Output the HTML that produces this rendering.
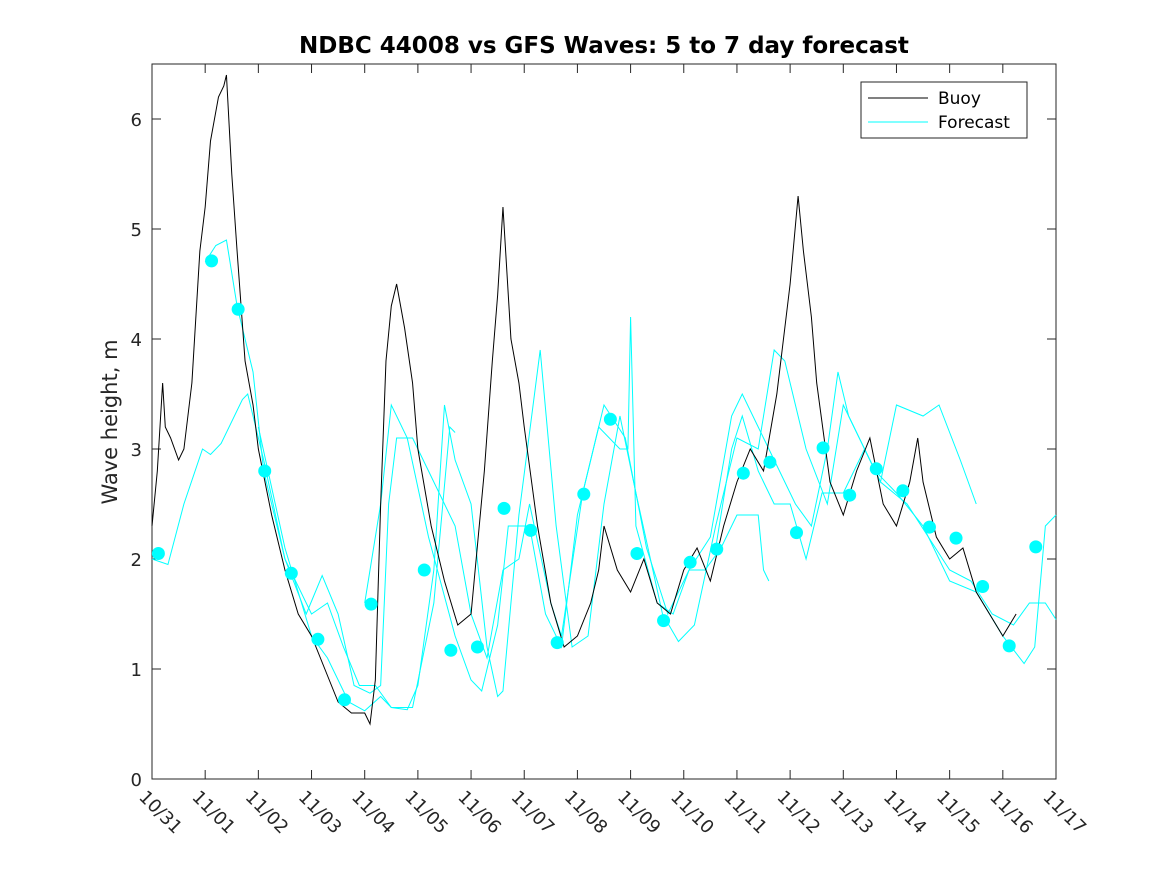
<!DOCTYPE html>
<html><head><meta charset="utf-8"><style>
body{margin:0;background:#fff}
svg{display:block;font-family:"DejaVu Sans","Liberation Sans",sans-serif}
</style></head><body>
<svg id="c" width="1167" height="875"></svg>
<script>
const xTicks=["10/31","11/01","11/02","11/03","11/04","11/05","11/06","11/07","11/08","11/09","11/10","11/11","11/12","11/13","11/14","11/15","11/16","11/17"];
const yTicks=[0,1,2,3,4,5,6];
const buoyDays=[0,0.1,0.2,0.25,0.35,0.5,0.6,0.75,0.9,1.0,1.1,1.25,1.35,1.4,1.5,1.6,1.75,1.9,2.0,2.25,2.5,2.75,3.0,3.25,3.5,3.75,4.0,4.1,4.2,4.3,4.4,4.5,4.6,4.75,4.9,5.0,5.25,5.5,5.75,6.0,6.25,6.4,6.5,6.6,6.75,6.9,7.0,7.25,7.5,7.75,8.0,8.25,8.4,8.5,8.75,9.0,9.25,9.5,9.75,10.0,10.25,10.5,10.75,11.0,11.25,11.5,11.75,12.0,12.15,12.25,12.4,12.5,12.75,13.0,13.25,13.5,13.75,14.0,14.25,14.4,14.5,14.75,15.0,15.25,15.5,15.75,16.0,16.25];
const buoyVals=[2.3,2.8,3.6,3.2,3.1,2.9,3.0,3.6,4.8,5.2,5.8,6.2,6.3,6.4,5.5,4.8,3.8,3.4,3.0,2.4,1.9,1.5,1.3,1.0,0.7,0.6,0.6,0.5,0.9,2.5,3.8,4.3,4.5,4.1,3.6,3.0,2.3,1.8,1.4,1.5,2.8,3.8,4.4,5.2,4.0,3.6,3.2,2.3,1.6,1.2,1.3,1.6,1.9,2.3,1.9,1.7,2.0,1.6,1.5,1.9,2.1,1.8,2.3,2.7,3.0,2.8,3.5,4.5,5.3,4.8,4.2,3.6,2.7,2.4,2.8,3.1,2.5,2.3,2.7,3.1,2.7,2.2,2.0,2.1,1.7,1.5,1.3,1.5];
const dotDays=[0.12,1.12,1.62,2.12,2.62,3.12,3.62,4.12,5.12,5.62,6.12,6.62,7.12,7.62,8.12,8.62,9.12,9.62,10.12,10.62,11.12,11.62,12.12,12.62,13.12,13.62,14.12,14.62,15.12,15.62,16.12,16.62];
const dotVals=[2.05,4.71,4.27,2.8,1.87,1.27,0.72,1.59,1.9,1.17,1.2,2.46,2.26,1.24,2.59,3.27,2.05,1.44,1.97,2.09,2.78,2.88,2.24,3.01,2.58,2.82,2.62,2.29,2.19,1.75,1.21,2.11];
const fc1=[[0,2.0],[0.3,1.95],[0.6,2.5],[0.95,3.0],[1.1,2.95],[1.3,3.05],[1.7,3.45],[1.8,3.5],[2.1,2.9],[2.5,2.0],[3.0,1.5],[3.3,1.6],[3.6,1.2],[3.9,0.85],[4.2,0.85],[4.5,0.65],[4.9,0.65],[5.3,1.6],[5.6,3.2],[5.7,3.15]];
const fc2=[[1.0,4.7],[1.2,4.85],[1.4,4.9],[1.6,4.3],[1.9,3.7],[2.1,2.8],[2.5,2.0],[2.9,1.5],[3.2,1.85],[3.5,1.5],[3.8,0.85],[4.1,0.78],[4.3,0.85],[4.45,2.5],[4.6,3.1],[4.9,3.1],[5.3,2.7],[5.7,2.3],[6.0,1.5],[6.3,1.1],[6.6,1.9],[6.9,2.0],[7.1,2.5],[7.5,1.6],[7.7,1.3],[8.1,2.6],[8.5,3.4],[8.9,3.1],[9.3,2.1],[9.7,1.5],[10.1,1.9],[10.5,2.2],[10.9,3.3],[11.1,3.5],[11.4,3.2],[11.7,2.9],[12.1,2.5],[12.4,2.3],[12.7,3.0],[12.9,3.7],[13.1,3.3],[13.6,2.8],[14.0,2.6],[14.5,2.3],[15.0,1.8],[15.5,1.7],[16.0,1.3],[16.4,1.05],[16.6,1.2],[16.8,2.3],[17,2.4]];
const fc3=[[2.0,3.2],[2.5,2.1],[3.0,1.3],[3.3,1.1],[3.7,0.7],[4.0,0.62],[4.3,0.75],[4.5,0.65],[4.8,0.63],[5.0,0.85],[5.3,1.9],[5.5,3.4],[5.7,2.9],[6.0,2.5],[6.3,1.2],[6.5,0.75],[6.6,0.8],[6.9,2.4],[7.3,3.9],[7.6,2.3],[7.9,1.2],[8.2,1.3],[8.5,2.5],[8.8,3.3],[9.1,2.6],[9.6,1.5],[9.9,1.25],[10.2,1.4],[10.6,2.3],[11.0,3.1],[11.4,3.0],[11.7,3.9],[11.9,3.8],[12.3,3.0],[12.7,2.5],[13.0,3.4],[13.3,3.1],[13.7,2.7],[14.0,3.4],[14.5,3.3],[14.8,3.4],[15.2,2.9],[15.5,2.5]];
const fc4=[[4.0,1.6],[4.3,2.5],[4.5,3.4],[4.8,3.1],[5.2,2.2],[5.7,1.3],[6.0,0.9],[6.2,0.8],[6.5,1.4],[6.7,2.3],[7.1,2.3],[7.4,1.5],[7.7,1.2],[8.0,2.4],[8.4,3.2],[8.8,3.0],[8.95,3.0],[9.0,4.2],[9.1,2.3],[9.5,1.6],[9.8,1.5],[10.1,1.9],[10.4,1.9],[10.7,2.1],[11.0,2.4],[11.4,2.4],[11.5,1.9],[11.6,1.8]];
const fc5=[[10.6,2.1],[10.9,3.0],[11.1,3.3],[11.4,2.8],[11.7,2.5],[12.0,2.5],[12.3,2.0],[12.6,2.6],[13.0,2.6],[13.4,3.0],[13.7,2.7],[14.2,2.5],[14.6,2.2],[15.0,1.9],[15.4,1.8],[15.8,1.5],[16.2,1.4],[16.5,1.6],[16.8,1.6],[17,1.45]];
const forecasts=[fc1,fc2,fc3,fc4,fc5];

const X0=152,X1=1056,YT=64,YB=779,XMAX=17,YMAX=6.5;
const sx=d=>X0+d*(X1-X0)/XMAX, sy=v=>YB-v*(YB-YT)/YMAX;
const NS="http://www.w3.org/2000/svg", svg=document.getElementById('c');
function mk(t,a,p){const e=document.createElementNS(NS,t);for(const k in a)e.setAttribute(k,a[k]);(p||svg).appendChild(e);return e;}
let e;
e=mk('rect',{x:X0,y:YT,width:X1-X0,height:YB-YT,fill:'#fff',stroke:'#262626','stroke-width':1});


xTicks.forEach((t,i)=>{const x=sx(i);
 e=mk('line',{x1:x,x2:x,y1:YB,y2:YB-9,stroke:'#262626'});
 
 
 mk('line',{x1:x,x2:x,y1:YT,y2:YT+9,stroke:'#262626'});
 e=mk('text',{x:x-14,y:798,'font-size':18,fill:'#262626',transform:`rotate(45 ${x-14} 798)`});
 e.textContent=t;
 
 
});
yTicks.forEach(v=>{const y=sy(v);
 e=mk('line',{x1:X0,x2:X0+9,y1:y,y2:y,stroke:'#262626'});
 
 
 mk('line',{x1:X1,x2:X1-9,y1:y,y2:y,stroke:'#262626'});
 e=mk('text',{x:X0-10,y:y+7,'font-size':18,fill:'#262626','text-anchor':'end'});
 e.textContent=v;
 
 
});
forecasts.forEach(f=>{
 e=mk('polyline',{points:f.map(p=>sx(p[0])+','+sy(p[1])).join(' '),fill:'none',stroke:'#00ffff','stroke-width':1});
 
 
});
e=mk('polyline',{points:buoyDays.map((d,i)=>sx(d)+','+sy(buoyVals[i])).join(' '),fill:'none',stroke:'#000','stroke-width':1});


dotDays.forEach((d,i)=>{
 e=mk('circle',{cx:sx(d),cy:sy(dotVals[i]),r:6.5,fill:'#00ffff'});
 
 
});
e=mk('text',{x:604,y:53,'font-size':23,'font-weight':'bold','text-anchor':'middle',fill:'#000'});
e.textContent='NDBC 44008 vs GFS Waves: 5 to 7 day forecast';


e=mk('text',{x:117,y:422,'font-size':21,'text-anchor':'middle',fill:'#262626',transform:'rotate(-90 117 422)'});
e.textContent='Wave height, m';


const lg=mk('g',{});


mk('rect',{x:861,y:82,width:166,height:56,fill:'#fff',stroke:'#262626'},lg);
e=mk('line',{x1:868,x2:928,y1:98,y2:98,stroke:'#000'},lg);


e=mk('text',{x:938,y:104,'font-size':17,fill:'#000'},lg);e.textContent='Buoy';


e=mk('line',{x1:868,x2:928,y1:122,y2:122,stroke:'#00ffff'},lg);


e=mk('text',{x:938,y:128,'font-size':17,fill:'#000'},lg);e.textContent='Forecast';


</script>
</body></html>
